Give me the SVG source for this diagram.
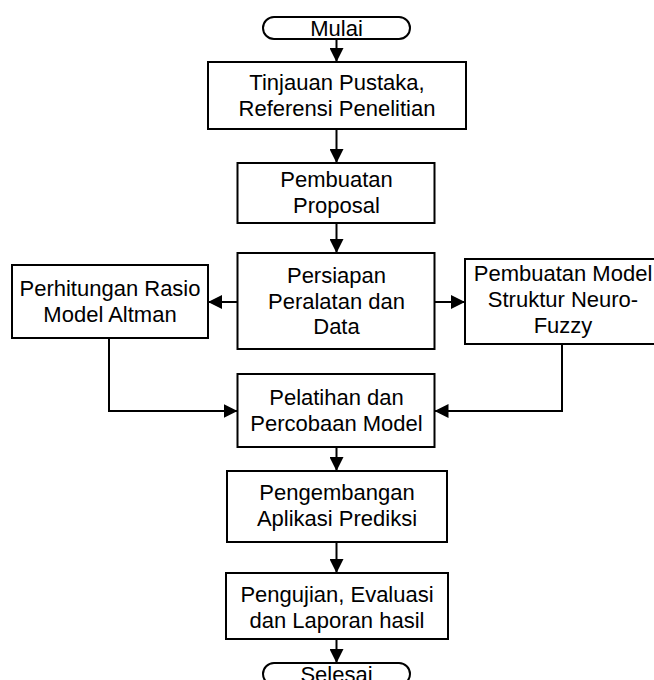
<svg xmlns="http://www.w3.org/2000/svg" width="654" height="680" viewBox="0 0 654 680">
<style>
.box{fill:#fff;stroke:#000;stroke-width:2}
.t{font-family:"Liberation Sans",Arial,sans-serif;font-size:22px;fill:#000;text-anchor:middle}
.c{fill:none;stroke:#000;stroke-width:2}
</style>
<defs>
<marker id="ah" markerUnits="userSpaceOnUse" markerWidth="14" markerHeight="14" viewBox="0 0 14 14" refX="14" refY="7" orient="auto">
<path d="M0,0 L14,7 L0,14 Z" fill="#000"/>
</marker>
</defs>
<rect width="654" height="680" fill="#fff"/>
<g id="connectors">
<path class="c" d="M336.5,39 V62" marker-end="url(#ah)"/>
<path class="c" d="M336.5,129 V163" marker-end="url(#ah)"/>
<path class="c" d="M336.5,223 V253" marker-end="url(#ah)"/>
<path class="c" d="M237.5,302 H208" marker-end="url(#ah)"/>
<path class="c" d="M434.5,302 H465" marker-end="url(#ah)"/>
<path class="c" d="M109,338 V411 H237.5" marker-end="url(#ah)"/>
<path class="c" d="M562,344 V411 H434.5" marker-end="url(#ah)"/>
<path class="c" d="M336.5,447 V471" marker-end="url(#ah)"/>
<path class="c" d="M336.5,542 V573" marker-end="url(#ah)"/>
<path class="c" d="M336.5,639 V663" marker-end="url(#ah)"/>
</g>
<g id="mulai">
<rect class="box" x="263" y="17" width="147" height="22" rx="11" ry="11"/>
<text class="t" x="336.5" y="36">Mulai</text>
</g>
<g id="tinjauan">
<rect class="box" x="208" y="62" width="258" height="67"/>
<text class="t" x="337" y="89.5">Tinjauan Pustaka,</text>
<text class="t" x="337" y="115.5">Referensi Penelitian</text>
</g>
<g id="proposal">
<rect class="box" x="237.5" y="163" width="197" height="60"/>
<text class="t" x="336.5" y="187">Pembuatan</text>
<text class="t" x="336.5" y="212.5">Proposal</text>
</g>
<g id="persiapan">
<rect class="box" x="237.5" y="253" width="197" height="96"/>
<text class="t" x="336.5" y="283">Persiapan</text>
<text class="t" x="336.5" y="308.5">Peralatan dan</text>
<text class="t" x="336.5" y="334">Data</text>
</g>
<g id="perhitungan">
<rect class="box" x="12" y="265" width="196" height="73"/>
<text class="t" x="110" y="296">Perhitungan Rasio</text>
<text class="t" x="110" y="322">Model Altman</text>
</g>
<g id="neurofuzzy">
<rect class="box" x="465" y="259" width="195" height="85"/>
<text class="t" x="563" y="281">Pembuatan Model</text>
<text class="t" x="563" y="307">Struktur Neuro-</text>
<text class="t" x="563" y="333">Fuzzy</text>
</g>
<g id="pelatihan">
<rect class="box" x="237.5" y="374" width="197" height="73"/>
<text class="t" x="336.5" y="405">Pelatihan dan</text>
<text class="t" x="336.5" y="431">Percobaan Model</text>
</g>
<g id="pengembangan">
<rect class="box" x="227" y="471" width="220" height="71"/>
<text class="t" x="337" y="500">Pengembangan</text>
<text class="t" x="337" y="526">Aplikasi Prediksi</text>
</g>
<g id="pengujian">
<rect class="box" x="226" y="573" width="222" height="66"/>
<text class="t" x="337" y="602">Pengujian, Evaluasi</text>
<text class="t" x="337" y="628">dan Laporan hasil</text>
</g>
<g id="selesai">
<rect class="box" x="263" y="663" width="147" height="22" rx="11" ry="11"/>
<text class="t" x="336.5" y="681.5">Selesai</text>
</g>
</svg>
